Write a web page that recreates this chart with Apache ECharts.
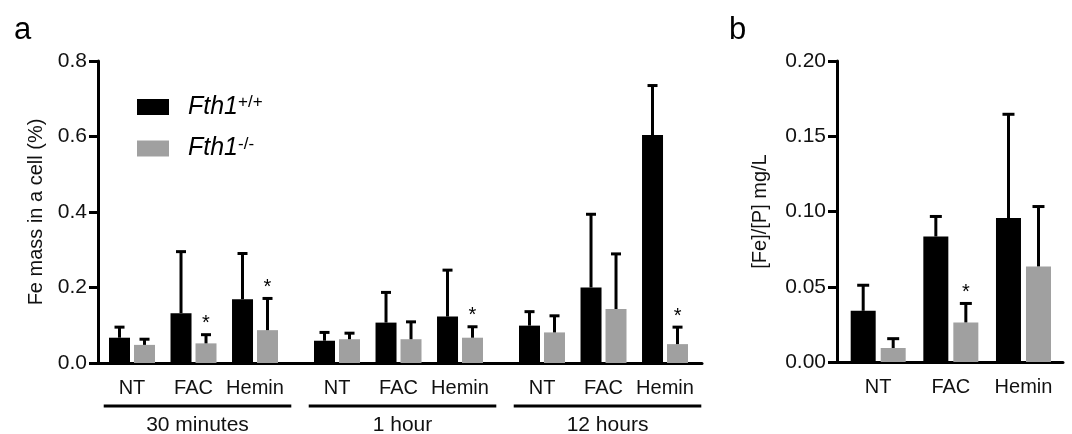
<!DOCTYPE html>
<html><head><meta charset="utf-8">
<script src="https://cdn.jsdelivr.net/npm/echarts@6/dist/echarts.min.js"></script>
<style>html,body{margin:0;padding:0;background:#fff}#c{width:1072px;height:434px}</style>
</head><body><div id="c"></div><script>
// ---------- data ----------
const conditions = ['NT', 'FAC', 'Hemin'];
const timeGroups = ['30 minutes', '1 hour', '12 hours'];
const seriesNames = ['Fth1+/+', 'Fth1-/-'];
const aYTicks = ['0.0', '0.2', '0.4', '0.6', '0.8'];
const bYTicks = ['0.00', '0.05', '0.10', '0.15', '0.20'];
const aYName = 'Fe mass in a cell (%)';
const bYName = '[Fe]/[P] mg/L';

// panel a, order: 30 min (NT, FAC, Hemin), 1 hour (...), 12 hours (...)
const aWildMean = [0.067, 0.132, 0.169, 0.059, 0.107, 0.123, 0.099, 0.200, 0.604];
const aWildSD   = [0.028, 0.163, 0.121, 0.022, 0.080, 0.123, 0.037, 0.194, 0.131];
const aKOMean   = [0.048, 0.052, 0.087, 0.063, 0.063, 0.067, 0.081, 0.143, 0.050];
const aKOSD     = [0.015, 0.023, 0.084, 0.016, 0.046, 0.029, 0.044, 0.146, 0.045];
const aKOSig    = [0, 1, 1, 0, 0, 1, 0, 0, 1];

// panel b (NT, FAC, Hemin)
const bWildMean = [0.034, 0.0834, 0.0956];
const bWildSD   = [0.017, 0.0133, 0.069];
const bKOMean   = [0.0093, 0.0263, 0.0635];
const bKOSD     = [0.0062, 0.0126, 0.0398];
const bKOSig    = [0, 1, 0];

// ---------- layout helpers ----------
const FONT = '"Liberation Sans", Arial, sans-serif';
const GROUP_EXTRA = 1 / 3;
const aPos = [];
timeGroups.forEach((g, gi) => conditions.forEach((c, ci) => aPos.push(gi * (conditions.length + GROUP_EXTRA) + ci)));
const bPos = conditions.map((c, i) => i);
const aLabelOf = v => { const i = aPos.findIndex(p => Math.abs(p - v) < 1e-6); return i < 0 ? '' : conditions[i % conditions.length]; };
const bLabelOf = v => { const i = bPos.findIndex(p => Math.abs(p - v) < 1e-6); return i < 0 ? '' : conditions[i]; };

const txt = { fontFamily: FONT, fontSize: 20, color: '#111' };
const tickTxt = { fontFamily: FONT, fontSize: 21, color: '#111' };

function yAxis(gi, ticks, name, gap) {
  return {
    gridIndex: gi, type: 'value',
    min: +ticks[0], max: +ticks[ticks.length - 1], interval: +ticks[1] - +ticks[0],
    name: name, nameLocation: 'middle', nameGap: gap, nameTextStyle: Object.assign({}, txt),
    axisLine: { show: true, onZero: false, lineStyle: { color: '#000', width: 3 } },
    axisTick: { show: true, length: 9, lineStyle: { color: '#000', width: 3 } },
    axisLabel: Object.assign({ margin: 11, formatter: v => ticks.find(t => Math.abs(+t - v) < 1e-9) || '' }, tickTxt),
    splitLine: { show: false }
  };
}
function xAxis(gi, min, max, pos, labelOf) {
  return {
    gridIndex: gi, type: 'value', min: min, max: max,
    axisLine: { show: true, onZero: false, lineStyle: { color: '#000', width: 3 } },
    axisTick: { show: false },
    splitLine: { show: false },
    axisLabel: Object.assign({ margin: 15, customValues: pos, formatter: labelOf }, txt)
  };
}
function barSeries(gi, name, pos, mean, color, w, gap) {
  return {
    type: 'bar', name: name, xAxisIndex: gi, yAxisIndex: gi,
    data: pos.map((p, i) => [p, mean[i]]),
    barWidth: w, barGap: gap, itemStyle: { color: color }, silent: true
  };
}
function errSeries(gi, pos, mean, sd, sig, dx, capW) {
  return {
    type: 'custom', xAxisIndex: gi, yAxisIndex: gi, silent: true, z: 3,
    data: pos.map((p, i) => [p, mean[i], sd[i], sig ? sig[i] : 0]),
    encode: { x: 0, y: 1 },
    renderItem(params, api) {
      const base = api.coord([api.value(0), api.value(1)]);
      const top = api.coord([api.value(0), api.value(1) + api.value(2)]);
      const x = base[0] + dx;
      const ch = [
        { type: 'line', shape: { x1: x, y1: base[1], x2: x, y2: top[1] }, style: { stroke: '#000', lineWidth: 3 } },
        { type: 'line', shape: { x1: x - capW / 2, y1: top[1], x2: x + capW / 2, y2: top[1] }, style: { stroke: '#000', lineWidth: 3 } }
      ];
      if (api.value(3)) ch.push({ type: 'text', x: x, y: top[1] - 1, style: { text: '*', fill: '#000', font: '20px ' + FONT, align: 'center', verticalAlign: 'bottom' } });
      return { type: 'group', children: ch };
    }
  };
}

const groupSpan = timeGroups.map((g, gi) => {
  const mid = gi * (conditions.length + GROUP_EXTRA) + 1;
  return [mid - 1.46, mid + 1.59, 0];
});

const titleStyle = { fontFamily: FONT, fontSize: 31, fontWeight: 'normal', color: '#000' };
const option = {
  animation: false,
  backgroundColor: '#fff',
  title: [
    { text: 'a', left: 14, top: 15, padding: 0, textStyle: titleStyle },
    { text: 'b', left: 729, top: 15, padding: 0, textStyle: titleStyle }
  ],
  legend: {
    data: seriesNames, orient: 'vertical', left: 137, top: 94, itemWidth: 32, itemHeight: 16, itemGap: 16,
    icon: 'rect', selectedMode: false, padding: 0,
    formatter: n => '{i|Fth1}{s|' + n.slice(4) + '}',
    textStyle: {
      rich: {
        i: { fontFamily: FONT, fontStyle: 'italic', fontSize: 25, color: '#000', lineHeight: 26, padding: [0, 0, 0, 14] },
        s: { fontFamily: FONT, fontSize: 17, color: '#000', verticalAlign: 'top', lineHeight: 15 }
      }
    }
  },
  grid: [
    { left: 98, top: 61, width: 604, height: 302 },
    { left: 837, top: 61, width: 226, height: 301 }
  ],
  xAxis: [
    xAxis(0, -0.553, 9.268, aPos, aLabelOf),
    xAxis(1, -0.567, 2.544, bPos, bLabelOf)
  ],
  yAxis: [
    yAxis(0, aYTicks, aYName, 48),
    yAxis(1, bYTicks, bYName, 67)
  ],
  series: [
    barSeries(0, seriesNames[0], aPos, aWildMean, '#000', 21, '19%'),
    barSeries(0, seriesNames[1], aPos, aKOMean, '#a0a0a0', 21, '19%'),
    barSeries(1, seriesNames[0], bPos, bWildMean, '#000', 25, '20%'),
    barSeries(1, seriesNames[1], bPos, bKOMean, '#a0a0a0', 25, '20%'),
    errSeries(0, aPos, aWildMean, aWildSD, null, -12.5, 10),
    errSeries(0, aPos, aKOMean, aKOSD, aKOSig, 12.5, 10),
    errSeries(1, bPos, bWildMean, bWildSD, null, -15, 12),
    errSeries(1, bPos, bKOMean, bKOSD, bKOSig, 15, 12),
    {
      type: 'custom', xAxisIndex: 0, yAxisIndex: 0, silent: true,
      data: groupSpan, encode: { x: [0, 1], y: 2 },
      renderItem(params, api) {
        const a = api.coord([api.value(0), 0]);
        const b = api.coord([api.value(1), 0]);
        return { type: 'group', children: [
          { type: 'line', shape: { x1: a[0], y1: a[1] + 43, x2: b[0], y2: a[1] + 43 }, style: { stroke: '#000', lineWidth: 3 } },
          { type: 'text', x: (a[0] + b[0]) / 2, y: a[1] + 62, style: { text: timeGroups[params.dataIndex], fill: '#111', font: '21px ' + FONT, align: 'center', verticalAlign: 'middle' } }
        ] };
      }
    }
  ]
};
const chart = echarts.init(document.getElementById('c'), null, { renderer: 'canvas' });
chart.setOption(option);
</script></body></html>
